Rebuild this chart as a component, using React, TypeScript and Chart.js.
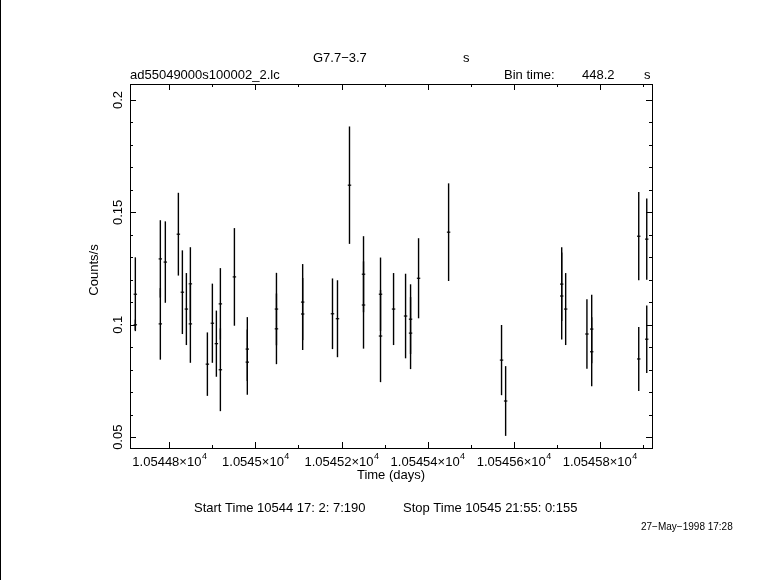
import React, { useEffect, useRef } from "react";
import { Chart, registerables } from "chart.js";

Chart.register(...registerables);

// ---- data (time in days, count rate, 1-sigma error) ----
const times = [
  10544.7209, 10544.7209, 10544.779, 10544.779, 10544.7906, 10544.8209, 10544.8302, 10544.8395,
  10544.8488, 10544.8488, 10544.8883, 10544.8999, 10544.9092, 10544.9185, 10544.9185, 10544.9511,
  10544.9811, 10544.9811, 10545.0488, 10545.0488, 10545.1097, 10545.1097, 10545.179, 10545.1906,
  10545.2185, 10545.2511, 10545.2511, 10545.2906, 10545.2906, 10545.3209, 10545.3488, 10545.3604,
  10545.3604, 10545.379, 10545.4488, 10545.5718, 10545.5813, 10545.7116, 10545.7116, 10545.7208,
  10545.7702, 10545.7813, 10545.7813, 10545.8906, 10545.8906, 10545.9092, 10545.9092,
];
const rates = [
  0.1136, 0.1, 0.1293, 0.1004, 0.1279, 0.1403, 0.1145, 0.107,
  0.1182, 0.1004, 0.0825, 0.1007, 0.0916, 0.1093, 0.08, 0.1213,
  0.0892, 0.0834, 0.107, 0.0982, 0.1101, 0.1048, 0.1049, 0.1027,
  0.1621, 0.1225, 0.1088, 0.1136, 0.095, 0.107, 0.1039, 0.1025,
  0.0963, 0.1207, 0.1412, 0.0843, 0.0661, 0.1181, 0.1128, 0.107,
  0.0959, 0.0981, 0.088, 0.1394, 0.0848, 0.1381, 0.0936,
];
const errors = [
  0.0161, 0.002, 0.0169, 0.0156, 0.0178, 0.0181, 0.0183, 0.0157,
  0.016, 0.017, 0.0138, 0.0173, 0.0144, 0.0156, 0.0181, 0.0214,
  0.0139, 0.0142, 0.0158, 0.0154, 0.0166, 0.0157, 0.0154, 0.0168,
  0.0258, 0.0166, 0.0191, 0.016, 0.0202, 0.0157, 0.0185, 0.0152,
  0.0157, 0.0175, 0.0214, 0.0153, 0.0152, 0.0161, 0.019, 0.0157,
  0.0151, 0.0149, 0.015, 0.0193, 0.0139, 0.0178, 0.0147,
];
const binTimeSec = 448.2;

// ---- axes ----
const xMin = 10544.7085;
const xMax = 10545.9214;
const yMin = 0.0452;
const yMax = 0.2071;
const xMajorTicks = [10544.8, 10545.0, 10545.2, 10545.4, 10545.6, 10545.8];
const xTickMantissas = ["1.05448", "1.0545", "1.05452", "1.05454", "1.05456", "1.05458"];
const xMinorTicks = [10544.9, 10545.1, 10545.3, 10545.5, 10545.7, 10545.9];
const yMajorTicks = [0.05, 0.1, 0.15, 0.2];
const yTickLabels = ["0.05", "0.1", "0.15", "0.2"];
const yMinorTicks = [0.06, 0.07, 0.08, 0.09, 0.11, 0.12, 0.13, 0.14, 0.16, 0.17, 0.18, 0.19];

const FONT = "'Liberation Sans', Arial, Helvetica, sans-serif";

const qdpPlugin = {
  id: "qdp",
  afterDraw(chart: any) {
    const ctx = chart.ctx as CanvasRenderingContext2D;
    const xs = chart.scales.x;
    const ys = chart.scales.y;
    const a = chart.chartArea;
    ctx.save();
    ctx.strokeStyle = "#000";
    ctx.fillStyle = "#000";

    // page left border
    ctx.lineWidth = 1;
    ctx.beginPath();
    ctx.moveTo(0.5, 0);
    ctx.lineTo(0.5, chart.height);
    ctx.stroke();

    // frame
    ctx.strokeRect(a.left + 0.5, a.top + 0.5, a.right - a.left, a.bottom - a.top);

    // ticks
    const tick = (x1: number, y1: number, x2: number, y2: number) => {
      ctx.beginPath();
      ctx.moveTo(x1, y1);
      ctx.lineTo(x2, y2);
      ctx.stroke();
    };
    xMajorTicks.forEach((v) => {
      const px = Math.round(xs.getPixelForValue(v)) + 0.5;
      tick(px, a.bottom, px, a.bottom - 6);
      tick(px, a.top, px, a.top + 6);
    });
    xMinorTicks.forEach((v) => {
      const px = Math.round(xs.getPixelForValue(v)) + 0.5;
      tick(px, a.bottom, px, a.bottom - 3);
      tick(px, a.top, px, a.top + 3);
    });
    yMajorTicks.forEach((v) => {
      const py = Math.round(ys.getPixelForValue(v)) + 0.5;
      tick(a.left, py, a.left + 6, py);
      tick(a.right, py, a.right - 6, py);
    });
    yMinorTicks.forEach((v) => {
      const py = Math.round(ys.getPixelForValue(v)) + 0.5;
      tick(a.left, py, a.left + 3, py);
      tick(a.right, py, a.right - 3, py);
    });

    // error bars
    const hw = binTimeSec / 86400 / 2;
    ctx.lineWidth = 1.4;
    ctx.lineCap = "square";
    times.forEach((t, i) => {
      const px = xs.getPixelForValue(t);
      const py = ys.getPixelForValue(rates[i]);
      const top = ys.getPixelForValue(Math.min(rates[i] + errors[i], yMax));
      const bot = ys.getPixelForValue(Math.max(rates[i] - errors[i], yMin));
      ctx.beginPath();
      ctx.moveTo(px, top);
      ctx.lineTo(px, bot);
      ctx.stroke();
      ctx.lineWidth = 1.2;
      ctx.beginPath();
      ctx.moveTo(xs.getPixelForValue(t - hw), py);
      ctx.lineTo(xs.getPixelForValue(t + hw), py);
      ctx.stroke();
      ctx.lineWidth = 1.4;
    });
    ctx.lineCap = "butt";

    // x tick labels
    xMajorTicks.forEach((v, i) => {
      const px = xs.getPixelForValue(v);
      const main = xTickMantissas[i] + "\u00d710";
      ctx.font = `13px ${FONT}`;
      const w1 = ctx.measureText(main).width;
      ctx.font = `9px ${FONT}`;
      const w2 = ctx.measureText("4").width;
      const x0 = px - (w1 + w2) / 2;
      ctx.textBaseline = "alphabetic";
      ctx.textAlign = "left";
      ctx.font = `13px ${FONT}`;
      ctx.fillText(main, x0, a.bottom + 18);
      ctx.font = `9px ${FONT}`;
      ctx.fillText("4", x0 + w1 + 0.5, a.bottom + 11);
    });

    // y tick labels (rotated)
    ctx.font = `13px ${FONT}`;
    ctx.textAlign = "center";
    ctx.textBaseline = "middle";
    yMajorTicks.forEach((v, i) => {
      const py = ys.getPixelForValue(v);
      ctx.save();
      ctx.translate(a.left - 12, py);
      ctx.rotate(-Math.PI / 2);
      ctx.fillText(yTickLabels[i], 0, 0);
      ctx.restore();
    });

    // axis titles
    ctx.save();
    ctx.translate(94, (a.top + a.bottom) / 2 + 4);
    ctx.rotate(-Math.PI / 2);
    ctx.fillText("Counts/s", 0, 0);
    ctx.restore();
    ctx.fillText("Time (days)", (a.left + a.right) / 2, a.bottom + 27);

    // header texts
    ctx.textAlign = "left";
    ctx.fillText("G7.7\u22123.7", 313, 58);
    ctx.fillText("s", 463, 58);
    ctx.fillText("ad55049000s100002_2.lc", 130, 75);
    ctx.fillText("Bin time:", 504, 75);
    ctx.fillText("448.2", 582, 75);
    ctx.fillText("s", 644, 75);

    // footer texts
    ctx.fillText("Start Time 10544 17: 2: 7:190", 194, 508);
    ctx.fillText("Stop Time 10545 21:55: 0:155", 403, 508);
    ctx.font = `10px ${FONT}`;
    ctx.fillText("27\u2212May\u22121998 17:28", 641, 527);

    ctx.restore();
  },
};

export default function App() {
  const ref = useRef<HTMLCanvasElement | null>(null);
  useEffect(() => {
    if (!ref.current) return;
    const chart = new Chart(ref.current, {
      type: "scatter",
      data: {
        datasets: [
          {
            data: times.map((t, i) => ({ x: t, y: rates[i] })),
            pointRadius: 0,
            showLine: false,
          },
        ],
      },
      options: {
        responsive: false,
        animation: false,
        devicePixelRatio: 1,
        layout: { padding: { left: 130, right: 129, top: 84, bottom: 132 } },
        scales: {
          x: { type: "linear", min: xMin, max: xMax, display: false },
          y: { type: "linear", min: yMin, max: yMax, display: false },
        },
        plugins: { legend: { display: false }, tooltip: { enabled: false } },
      },
      plugins: [qdpPlugin],
    } as any);
    return () => chart.destroy();
  }, []);
  return (
    <div style={{ position: "fixed", left: 0, top: 0, width: 781, height: 580, background: "#fff" }}>
      <canvas ref={ref} width={781} height={580} style={{ display: "block" }} />
    </div>
  );
}
